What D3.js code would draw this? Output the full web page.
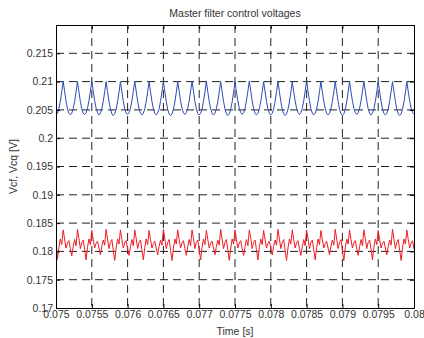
<!DOCTYPE html>
<html>
<head>
<meta charset="utf-8">
<script src="https://cdn.jsdelivr.net/npm/d3@7"></script>
<style>
body { margin: 0; background: #fff; }
text { font-family: "Liberation Sans", Arial, sans-serif; font-size: 10.5px; fill: #333; }
</style>
</head>
<body>
<svg id="chart" width="424" height="338"></svg>
<script>
// sampled signals, one value every 20 us starting at 0.075 s
var t0 = 0.075;
var dt = 0.00002;

// Vcf (blue)
var vcf = [
  0.2042,0.2044,0.2052,0.2065,0.2082,0.2101,0.2083,0.2066,0.2052,0.2044,
  0.2041,0.2044,0.2052,0.2065,0.2082,0.2100,0.2082,0.2065,0.2052,0.2044,
  0.2042,0.2045,0.2053,0.2066,0.2083,0.2101,0.2083,0.2066,0.2053,0.2045,
  0.2041,0.2044,0.2052,0.2065,0.2082,0.2100,0.2082,0.2065,0.2052,0.2043,
  0.2040,0.2043,0.2051,0.2064,0.2081,0.2100,0.2082,0.2065,0.2052,0.2044,
  0.2042,0.2045,0.2053,0.2066,0.2083,0.2101,0.2083,0.2066,0.2052,0.2044,
  0.2041,0.2044,0.2052,0.2065,0.2082,0.2100,0.2082,0.2065,0.2052,0.2044,
  0.2041,0.2044,0.2052,0.2065,0.2082,0.2100,0.2082,0.2065,0.2051,0.2043,
  0.2040,0.2043,0.2051,0.2064,0.2081,0.2100,0.2083,0.2066,0.2053,0.2045,
  0.2042,0.2045,0.2053,0.2066,0.2083,0.2101,0.2083,0.2065,0.2052,0.2044,
  0.2041,0.2044,0.2052,0.2065,0.2082,0.2100,0.2082,0.2065,0.2052,0.2044,
  0.2041,0.2044,0.2052,0.2065,0.2082,0.2100,0.2082,0.2065,0.2052,0.2043,
  0.2040,0.2043,0.2051,0.2064,0.2081,0.2100,0.2082,0.2066,0.2053,0.2045,
  0.2042,0.2045,0.2053,0.2066,0.2083,0.2101,0.2083,0.2066,0.2052,0.2044,
  0.2041,0.2044,0.2052,0.2065,0.2082,0.2100,0.2082,0.2065,0.2052,0.2044,
  0.2041,0.2044,0.2052,0.2065,0.2082,0.2100,0.2082,0.2065,0.2051,0.2043,
  0.2040,0.2043,0.2051,0.2064,0.2081,0.2100,0.2082,0.2066,0.2053,0.2045,
  0.2042,0.2045,0.2053,0.2066,0.2083,0.2101,0.2083,0.2066,0.2052,0.2044,
  0.2041,0.2044,0.2052,0.2065,0.2082,0.2100,0.2082,0.2065,0.2052,0.2044,
  0.2041,0.2044,0.2052,0.2065,0.2082,0.2100,0.2082,0.2065,0.2051,0.2043,
  0.2040,0.2043,0.2051,0.2064,0.2081,0.2100,0.2082,0.2066,0.2053,0.2045,
  0.2042,0.2045,0.2053,0.2066,0.2083,0.2101,0.2083,0.2066,0.2052,0.2044,
  0.2041,0.2044,0.2052,0.2065,0.2082,0.2100,0.2082,0.2065,0.2052,0.2044,
  0.2041,0.2044,0.2052,0.2065,0.2082,0.2100,0.2082,0.2065,0.2051,0.2043,
  0.2040,0.2043,0.2051,0.2064,0.2081,0.2100,0.2082,0.2066,0.2053,0.2045,
  0.2042
];

// Vcq (red)
var vcq = [
  0.1820,0.1786,0.1806,0.1822,0.1812,0.1838,0.1822,0.1806,0.1815,0.1819,
  0.1805,0.1792,0.1808,0.1821,0.1810,0.1839,0.1823,0.1805,0.1816,0.1820,
  0.1803,0.1785,0.1807,0.1822,0.1812,0.1837,0.1821,0.1806,0.1814,0.1818,
  0.1806,0.1794,0.1809,0.1820,0.1811,0.1839,0.1822,0.1805,0.1816,0.1821,
  0.1802,0.1784,0.1806,0.1822,0.1813,0.1838,0.1821,0.1806,0.1815,0.1819,
  0.1805,0.1793,0.1808,0.1821,0.1810,0.1838,0.1823,0.1805,0.1816,0.1820,
  0.1803,0.1785,0.1807,0.1822,0.1812,0.1837,0.1821,0.1806,0.1814,0.1818,
  0.1806,0.1794,0.1809,0.1820,0.1811,0.1839,0.1822,0.1805,0.1816,0.1821,
  0.1802,0.1784,0.1806,0.1822,0.1813,0.1838,0.1821,0.1806,0.1815,0.1819,
  0.1805,0.1793,0.1808,0.1821,0.1810,0.1838,0.1823,0.1805,0.1816,0.1820,
  0.1803,0.1785,0.1807,0.1822,0.1812,0.1837,0.1821,0.1806,0.1814,0.1818,
  0.1806,0.1794,0.1809,0.1820,0.1811,0.1839,0.1822,0.1805,0.1816,0.1821,
  0.1802,0.1784,0.1806,0.1822,0.1813,0.1838,0.1821,0.1806,0.1815,0.1819,
  0.1805,0.1793,0.1808,0.1821,0.1810,0.1838,0.1823,0.1805,0.1816,0.1820,
  0.1803,0.1785,0.1807,0.1822,0.1812,0.1837,0.1821,0.1806,0.1814,0.1818,
  0.1806,0.1794,0.1809,0.1820,0.1811,0.1839,0.1822,0.1805,0.1816,0.1821,
  0.1802,0.1784,0.1806,0.1822,0.1813,0.1838,0.1821,0.1806,0.1815,0.1819,
  0.1805,0.1793,0.1808,0.1821,0.1810,0.1838,0.1823,0.1805,0.1816,0.1820,
  0.1803,0.1785,0.1807,0.1822,0.1812,0.1837,0.1821,0.1806,0.1814,0.1818,
  0.1806,0.1794,0.1809,0.1820,0.1811,0.1839,0.1822,0.1805,0.1816,0.1821,
  0.1802,0.1784,0.1806,0.1822,0.1813,0.1838,0.1821,0.1806,0.1815,0.1819,
  0.1805,0.1793,0.1808,0.1821,0.1810,0.1838,0.1823,0.1805,0.1816,0.1820,
  0.1803,0.1785,0.1807,0.1822,0.1812,0.1837,0.1821,0.1806,0.1814,0.1818,
  0.1806,0.1794,0.1809,0.1820,0.1811,0.1839,0.1822,0.1805,0.1816,0.1821,
  0.1802,0.1784,0.1806,0.1822,0.1813,0.1838,0.1821,0.1806,0.1815,0.1819,
  0.1804
];

var xTicks = [0.075, 0.0755, 0.076, 0.0765, 0.077, 0.0775, 0.078, 0.0785, 0.079, 0.0795, 0.08];
var xTickLabels = ["0.075", "0.0755", "0.076", "0.0765", "0.077", "0.0775", "0.078", "0.0785", "0.079", "0.0795", "0.08"];
var yTicks = [0.17, 0.175, 0.18, 0.185, 0.19, 0.195, 0.2, 0.205, 0.21, 0.215, 0.22];
var yTickLabels = ["0.17", "0.175", "0.18", "0.185", "0.19", "0.195", "0.2", "0.205", "0.21", "0.215", ""];

// plot box (window.top is reserved, so use other names)
var pLeft = 56, pRight = 414, pTop = 25, pBottom = 308;

var x = d3.scaleLinear().domain([0.075, 0.08]).range([pLeft, pRight]);
var y = d3.scaleLinear().domain([0.17, 0.22]).range([pBottom, pTop]);

var svg = d3.select("#chart");

// title
svg.append("text")
    .attr("x", (pLeft + pRight) / 2)
    .attr("y", 17)
    .attr("text-anchor", "middle")
    .text("Master filter control voltages");

// dashed grid
var grid = svg.append("g")
    .attr("stroke", "#222")
    .attr("stroke-width", 1)
    .attr("stroke-dasharray", "8,5");

grid.selectAll(".gx")
    .data(xTicks.slice(1, -1))
    .enter()
    .append("line")
    .attr("x1", function (d) { return x(d); })
    .attr("x2", function (d) { return x(d); })
    .attr("y1", pTop)
    .attr("y2", pBottom);

grid.selectAll(".gy")
    .data(yTicks.slice(1, -1))
    .enter()
    .append("line")
    .attr("x1", pLeft)
    .attr("x2", pRight)
    .attr("y1", function (d) { return y(d); })
    .attr("y2", function (d) { return y(d); });

// signals
svg.append("clipPath")
    .attr("id", "clip")
    .append("rect")
    .attr("x", pLeft)
    .attr("y", pTop)
    .attr("width", pRight - pLeft)
    .attr("height", pBottom - pTop);

var line = d3.line()
    .x(function (d, i) { return x(t0 + i * dt); })
    .y(function (d) { return y(d); });

svg.append("path")
    .attr("clip-path", "url(#clip)")
    .attr("d", line(vcf))
    .attr("fill", "none")
    .attr("stroke", "#2a4cb2")
    .attr("stroke-width", 1);

svg.append("path")
    .attr("clip-path", "url(#clip)")
    .attr("d", line(vcq))
    .attr("fill", "none")
    .attr("stroke", "#ee1c24")
    .attr("stroke-width", 1);

// axes, ticks pointing inward like matlab
var xAxis = d3.axisBottom(x)
    .tickValues(xTicks)
    .tickFormat(function (d, i) { return xTickLabels[i]; })
    .tickSizeInner(-4)
    .tickSizeOuter(0)
    .tickPadding(3);

var yAxis = d3.axisLeft(y)
    .tickValues(yTicks)
    .tickFormat(function (d, i) { return yTickLabels[i]; })
    .tickSizeInner(-4)
    .tickSizeOuter(0)
    .tickPadding(3);

var gx = svg.append("g").attr("transform", "translate(0," + pBottom + ")").call(xAxis);
var gy = svg.append("g").attr("transform", "translate(" + pLeft + ",0)").call(yAxis);
var gt = svg.append("g").attr("transform", "translate(0," + pTop + ")")
    .call(d3.axisTop(x).tickValues(xTicks).tickFormat("").tickSizeInner(-4).tickSizeOuter(0));
var gr = svg.append("g").attr("transform", "translate(" + pRight + ",0)")
    .call(d3.axisRight(y).tickValues(yTicks).tickFormat("").tickSizeInner(-4).tickSizeOuter(0));

[gx, gy, gt, gr].forEach(function (g) {
    g.select(".domain").attr("stroke", "#000");
    g.selectAll(".tick line").attr("stroke", "#000");
    g.selectAll("text")
        .attr("fill", "#333")
        .style("font-family", "'Liberation Sans', Arial, sans-serif")
        .style("font-size", "10.5px");
});

// axis labels
svg.append("text")
    .attr("x", (pLeft + pRight) / 2)
    .attr("y", 335)
    .attr("text-anchor", "middle")
    .text("Time [s]");

svg.append("text")
    .attr("transform", "translate(17," + (pTop + pBottom) / 2 + ") rotate(-90)")
    .attr("text-anchor", "middle")
    .text("Vcf, Vcq [V]");
</script>
</body>
</html>
